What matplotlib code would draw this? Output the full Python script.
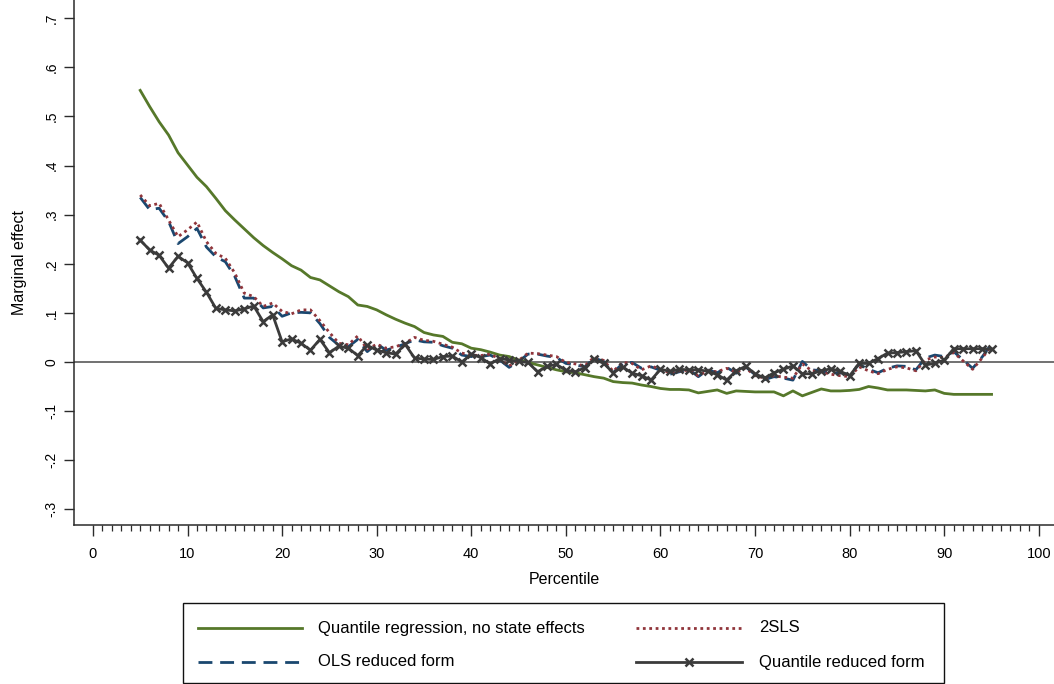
import matplotlib
matplotlib.use('Agg')
import matplotlib.pyplot as plt
from matplotlib.ticker import FixedLocator, FixedFormatter
from matplotlib.lines import Line2D
from matplotlib.patches import Rectangle

# ---------------- data ----------------
percentile = list(range(5, 96))

quantile_no_state = [
    .553, .520, .489, .462, .426, .401, .376, .357, .333, .308,
    .289, .271, .253, .237, .223, .210, .196, .187, .172, .167,
    .155, .143, .133, .116, .113, .106, .096, .087, .079, .072,
    .060, .055, .052, .040, .037, .028, .025, .020, .014, .011,
    .004, -.001, -.006, -.011, -.016, -.020, -.022, -.026, -.030, -.033,
    -.040, -.042, -.043, -.047, -.050, -.054, -.056, -.056, -.057, -.063,
    -.060, -.057, -.064, -.059, -.060, -.061, -.061, -.061, -.069, -.059,
    -.069, -.062, -.055, -.059, -.059, -.058, -.056, -.050, -.053, -.057,
    -.057, -.057, -.058, -.059, -.057, -.064, -.066, -.066, -.066, -.066,
    -.066]

tsls = [
    .340, .318, .323, .289, .255, .269, .285, .245, .221, .211,
    .181, .140, .133, .113, .120, .103, .098, .106, .106, .084,
    .060, .038, .035, .053, .026, .036, .028, .031, .038, .050,
    .044, .042, .036, .030, .018, .014, .013, .016, .006, -.008,
    .003, .018, .017, .014, .011, -.001, -.004, -.008, .010, .003,
    -.019, -.001, -.003, -.016, -.008, -.015, -.022, -.018, -.017, -.028,
    -.018, -.020, -.013, -.021, -.012, -.028, -.033, -.028, -.031, -.033,
    -.004, -.018, -.020, -.025, -.028, -.030, -.010, -.018, -.024, -.015,
    -.010, -.012, -.018, .004, .010, .009, .019, .002, -.015, .008,
    .033]

ols_reduced = [
    .335, .310, .313, .286, .241, .255, .272, .234, .214, .204,
    .174, .130, .130, .110, .113, .093, .100, .101, .100, .078,
    .050, .034, .031, .046, .021, .037, .024, .030, .037, .045,
    .041, .040, .033, .028, .014, .011, .011, .014, .004, -.011,
    .001, .016, .016, .012, .009, -.003, -.006, -.010, .008, .001,
    -.022, -.003, -.001, -.013, -.010, -.017, -.025, -.020, -.015, -.030,
    -.016, -.022, -.011, -.023, -.010, -.026, -.036, -.030, -.033, -.037,
    .001, -.016, -.018, -.023, -.022, -.026, -.005, -.015, -.022, -.013,
    -.008, -.009, -.016, .008, .014, .011, .021, .004, -.013, .010,
    .037]

quantile_reduced = [
    .248, .228, .217, .191, .215, .202, .170, .142, .109, .106,
    .104, .108, .114, .082, .096, .041, .047, .038, .024, .046,
    .019, .032, .028, .013, .034, .024, .019, .016, .036, .008,
    .006, .005, .011, .012, .000, .016, .009, -.004, .007, .004,
    .001, -.001, -.020, -.009, -.005, -.017, -.020, -.012, .006, -.003,
    -.022, -.010, -.023, -.028, -.037, -.015, -.019, -.015, -.016, -.016,
    -.019, -.026, -.037, -.018, -.009, -.024, -.033, -.022, -.015, -.008,
    -.024, -.024, -.018, -.014, -.019, -.028, -.003, -.003, .007, .018,
    .019, .021, .023, -.006, -.003, .004, .027, .027, .027, .027,
    .026]

ytick_values = [-.3, -.2, -.1, 0, .1, .2, .3, .4, .5, .6, .7]
ytick_labels = ['-.3', '-.2', '-.1', '0', '.1', '.2', '.3', '.4', '.5', '.6', '.7']
xtick_values = [0, 10, 20, 30, 40, 50, 60, 70, 80, 90, 100]
xminor_values = list(range(0, 101))

labels = ['Quantile regression, no state effects', 'OLS reduced form',
          '2SLS', 'Quantile reduced form']

# ---------------- style ----------------
plt.rcParams['font.family'] = ['Liberation Sans', 'DejaVu Sans']

W, H = 1054, 684
fig = plt.figure(figsize=(W / 100, H / 100), dpi=100)
ax = fig.add_axes([74 / W, 1 - 525 / H, 980 / W, 525 / H])

GREEN = '#56782a'
NAVY = '#1a476f'
MAROON = '#90353b'
DARK = '#3b3b3b'

styles = [
    dict(color=GREEN, lw=2.0),
    dict(color=NAVY, lw=2.0, linestyle=(0, (5, 2.8))),
    dict(color=MAROON, lw=2.0, linestyle=(0, (1, 1.3))),
    dict(color=DARK, lw=2.0, marker='x', markersize=5.5, markeredgewidth=1.8),
]

ax.axhline(0, color='#4a4a4a', lw=1.1, zorder=1)

ax.plot(percentile, quantile_no_state, zorder=3, **styles[0])
ax.plot(percentile, tsls, zorder=4, **styles[2])
ax.plot(percentile, ols_reduced, zorder=3, **styles[1])
ax.plot(percentile, quantile_reduced, zorder=5, **styles[3])

ax.set_xlim(-2.0, 101.6)
ax.set_ylim(-0.332, 0.737)

for s in ['top', 'right']:
    ax.spines[s].set_visible(False)
for s in ['left', 'bottom']:
    ax.spines[s].set_color('#2b2b2b')
    ax.spines[s].set_linewidth(1.1)

ax.yaxis.set_major_locator(FixedLocator(ytick_values))
ax.yaxis.set_major_formatter(FixedFormatter(ytick_labels))
ax.xaxis.set_major_locator(FixedLocator(xtick_values))
ax.xaxis.set_minor_locator(FixedLocator(xminor_values))

ax.tick_params(axis='y', direction='out', length=7, width=1.0, color='#2b2b2b',
               labelsize=10, pad=4)
for t in ax.get_yticklabels():
    t.set_rotation(90)
    t.set_va('center')
ax.tick_params(axis='x', which='major', direction='out', length=8, width=1.0,
               color='#2b2b2b', labelsize=10.5, pad=8)
ax.tick_params(axis='x', which='minor', direction='out', length=4.5, width=0.9,
               color='#2b2b2b')

ax.set_xlabel('Percentile', fontsize=11.5, labelpad=8)
ax.set_ylabel('Marginal effect', fontsize=11.5, labelpad=13)

# ---------------- legend (drawn in figure pixel coordinates) ----------------
def fx(px):
    return px / W

def fy(py):
    return 1 - py / H

box = Rectangle((fx(183), fy(683)), fx(944) - fx(183), fy(603) - fy(683),
                transform=fig.transFigure, fill=False, edgecolor='#111111',
                lw=1.0)
fig.add_artist(box)

entries = [  # (style index, label index, handle x0, handle x1, text x, row y)
    (0, 0, 198, 302, 318, 628),
    (1, 1, 198, 302, 318, 662),
    (2, 2, 636, 742, 759, 628),
    (3, 3, 636, 742, 759, 662),
]
for si, li, x0, x1, tx, ry in entries:
    st = dict(styles[si])
    if 'marker' in st:
        ln = Line2D([fx(x0), fx((x0 + x1) / 2), fx(x1)], [fy(ry)] * 3,
                    transform=fig.transFigure, markevery=[1], **st)
    else:
        ln = Line2D([fx(x0), fx(x1)], [fy(ry)] * 2, transform=fig.transFigure, **st)
    fig.add_artist(ln)
    fig.text(fx(tx), fy(ry), labels[li], fontsize=12, va='center', ha='left')

fig.savefig('out.png', dpi=100)
